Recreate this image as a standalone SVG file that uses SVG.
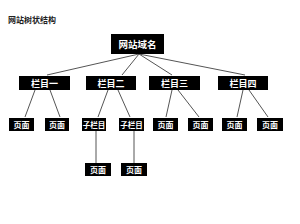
<svg xmlns="http://www.w3.org/2000/svg" width="300" height="224" viewBox="0 0 300 224">
<style>
.b{fill:#000}
.t{fill:#fff;font-family:"Noto Sans CJK SC",sans-serif;font-weight:bold;text-anchor:middle;dominant-baseline:central}
.c line{stroke:#555;stroke-width:1}
</style>
<rect width="300" height="224" fill="#fff"/>
<text x="8" y="19.5" font-family="'Noto Sans CJK SC',sans-serif" font-size="8" font-weight="bold" fill="#222" dominant-baseline="central">网站树状结构</text>
<g class="c" id="connectors">
<line x1="139" y1="54" x2="47" y2="75"/>
<line x1="139" y1="54" x2="122" y2="75"/>
<line x1="139" y1="54" x2="172" y2="75"/>
<line x1="139" y1="54" x2="245" y2="75"/>
<line x1="35" y1="90" x2="25" y2="117"/>
<line x1="50" y1="90" x2="60" y2="117"/>
<line x1="108" y1="90" x2="98" y2="117"/>
<line x1="118" y1="90" x2="130" y2="117"/>
<line x1="172" y1="90" x2="166" y2="117"/>
<line x1="178" y1="90" x2="199" y2="117"/>
<line x1="243" y1="90" x2="237" y2="117"/>
<line x1="249" y1="90" x2="268" y2="117"/>
<line x1="96" y1="131" x2="96" y2="163"/>
<line x1="134" y1="131" x2="134" y2="163"/>
</g>
<g id="root"><rect class="b" x="111" y="34" width="53" height="20"/><text class="t" x="137.5" y="44" font-size="9.5">网站域名</text></g>
<g id="c1"><rect class="b" x="19" y="76" width="51" height="14"/><text class="t" x="44.5" y="83" font-size="9">栏目一</text></g>
<g id="c2"><rect class="b" x="86" y="76" width="50" height="14"/><text class="t" x="111" y="83" font-size="9">栏目二</text></g>
<g id="c3"><rect class="b" x="149" y="76" width="51" height="14"/><text class="t" x="174.5" y="83" font-size="9">栏目三</text></g>
<g id="c4"><rect class="b" x="218" y="76" width="50" height="14"/><text class="t" x="243" y="83" font-size="9">栏目四</text></g>
<g id="p1"><rect class="b" x="9" y="118" width="25" height="13"/><text class="t" x="21.5" y="124.5" font-size="8">页面</text></g>
<g id="p2"><rect class="b" x="45" y="118" width="24" height="13"/><text class="t" x="57" y="124.5" font-size="8">页面</text></g>
<g id="s1"><rect class="b" x="82" y="118" width="24" height="13"/><text class="t" x="94" y="124.5" font-size="7.5">子栏目</text></g>
<g id="s2"><rect class="b" x="119" y="118" width="25" height="13"/><text class="t" x="131.5" y="124.5" font-size="7.5">子栏目</text></g>
<g id="p3"><rect class="b" x="153" y="118" width="25" height="13"/><text class="t" x="165.5" y="124.5" font-size="8">页面</text></g>
<g id="p4"><rect class="b" x="188" y="118" width="25" height="13"/><text class="t" x="200.5" y="124.5" font-size="8">页面</text></g>
<g id="p5"><rect class="b" x="222" y="118" width="25" height="13"/><text class="t" x="234.5" y="124.5" font-size="8">页面</text></g>
<g id="p6"><rect class="b" x="257" y="118" width="26" height="13"/><text class="t" x="270" y="124.5" font-size="8">页面</text></g>
<g id="p7"><rect class="b" x="85" y="163" width="26" height="13"/><text class="t" x="98" y="169.5" font-size="8">页面</text></g>
<g id="p8"><rect class="b" x="121" y="163" width="26" height="13"/><text class="t" x="134" y="169.5" font-size="8">页面</text></g>
</svg>
